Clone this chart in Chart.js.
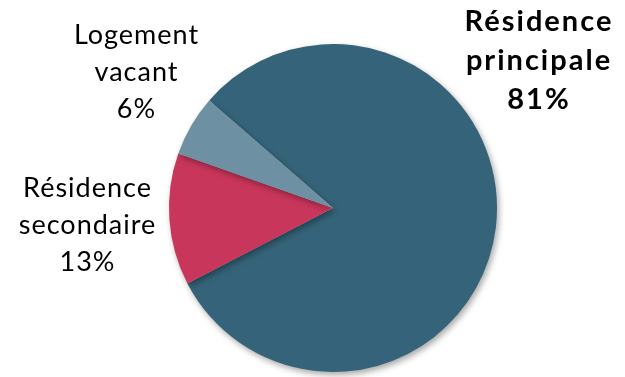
<!DOCTYPE html>
<html>
<head>
<meta charset="utf-8">
<script src="https://cdn.jsdelivr.net/npm/chart.js@4"></script>
<style>
html,body{margin:0;padding:0;background:#fff;}
#wrap{width:625px;height:377px;position:relative;}
</style>
</head>
<body>
<div id="wrap"><canvas id="c" width="625" height="377"></canvas></div>
<script>
const categories = ["Résidence principale", "Résidence secondaire", "Logement vacant"];
const values = [81, 13, 6];
const labelLines = [["Résidence", "principale"], ["Résidence", "secondaire"], ["Logement", "vacant"]];
const colors = ["#35647A", "#C9365C", "#6D90A2"];

const labelPlacement = [
  {x: 538, y: 22, bold: true, size: 29, lh: 39, ls: 2},
  {x: 87, y: 188, bold: false, size: 27, lh: 37, ls: 1},
  {x: 136, y: 35, bold: false, size: 27, lh: 37, ls: 1}
];

const shadowPlugin = {
  id: 'shadow',
  beforeDatasetsDraw(chart) {
    const ctx = chart.ctx;
    ctx.save();
    ctx.shadowColor = 'rgba(0,0,0,0.35)';
    ctx.shadowBlur = 6;
    ctx.shadowOffsetX = 2;
    ctx.shadowOffsetY = 3;
  },
  afterDatasetsDraw(chart) {
    chart.ctx.restore();
  }
};

const labelPlugin = {
  id: 'sliceLabels',
  afterDraw(chart) {
    const ctx = chart.ctx;
    const data = chart.data.datasets[0].data;
    ctx.save();
    ctx.fillStyle = '#000';
    ctx.textAlign = 'center';
    ctx.textBaseline = 'middle';
    data.forEach((v, i) => {
      const p = labelPlacement[i];
      ctx.font = (p.bold ? 'bold ' : '') + p.size + 'px Lato, "Open Sans", sans-serif';
      if ('letterSpacing' in ctx) ctx.letterSpacing = p.ls + 'px';
      const lines = labelLines[i].concat([v + '%']);
      lines.forEach((t, j) => ctx.fillText(t, p.x + p.ls / 2, p.y + j * p.lh));
    });
    ctx.restore();
  }
};

new Chart(document.getElementById('c'), {
  type: 'pie',
  data: {
    labels: categories,
    datasets: [{
      data: values,
      backgroundColor: colors,
      borderWidth: 0
    }]
  },
  options: {
    responsive: false,
    animation: false,
    rotation: -49,
    layout: {padding: {left: 169, right: 128, top: 44, bottom: 5}},
    plugins: {legend: {display: false}, tooltip: {enabled: false}}
  },
  plugins: [shadowPlugin, labelPlugin]
});
</script>
</body>
</html>
